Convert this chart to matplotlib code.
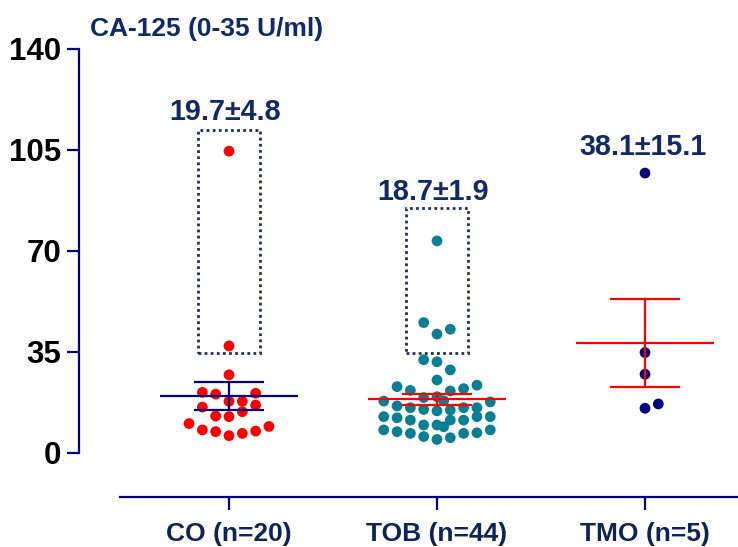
import matplotlib
matplotlib.use("Agg")
import matplotlib.pyplot as plt
from matplotlib.patches import Rectangle

# ---------------- data ----------------
groups = ["CO (n=20)", "TOB (n=44)", "TMO (n=5)"]
yticks = [0, 35, 70, 105, 140]

co_values = [104.6, 37.1, 27.1, 21.0, 20.4, 20.7, 17.9, 17.9, 16.6, 15.9,
             14.3, 12.8, 12.6, 10.2, 8.0, 7.4, 6.0, 6.8, 7.6, 9.2]
tob_values = [73.5, 45.2, 41.2, 42.9, 32.3, 31.6, 28.8, 25.3, 23.0, 21.7,
              19.2, 19.5, 21.5, 22.3, 23.5, 18.0, 17.7, 18.1, 16.3, 15.7,
              15.1, 14.6, 14.9, 15.7, 15.7, 12.6, 12.2, 11.4, 11.4, 11.4,
              12.6, 12.6, 9.7, 9.7, 9.1, 8.0, 7.4, 6.8, 5.7, 4.7,
              5.3, 6.8, 7.0, 8.0]
tmo_values = [97.0, 34.8, 27.3, 15.5, 17.0]

means = [19.7, 18.7, 38.1]
sems = [4.8, 1.9, 15.1]
labels = ["19.7\u00b14.8", "18.7\u00b11.9", "38.1\u00b115.1"]

# outlier boxes (value ranges)
box_low = [34.5, 34.6]
box_high = [112.0, 84.8]

# swarm layout columns (horizontal slot of each dot)
co_cols = [0, 0, 0, -2, -1, 2, 0, 1, 2, -2, 1, -1, 0, -3, -2, -1, 0, 1, 2, 3]
tob_cols = [0, -1, 0, 1, -1, 0, 1, 0, -3, -2, -1, 0, 1, 2, 3, -4, 4, 0.5,
            -3, -2, -1, 0, 1, 2, 3, -4, -3, -2, 1, 2, 3, 4, -1, 0, 0.5,
            -4, -3, -2, -1, 0, 1, 2, 3, 4]
tmo_cols = [0, 0, 0, 0, 1]

# ---------------- style ----------------
navy = "#00007f"
textnavy = "#0f2a66"
boxcol = "#1b2f5e"
red = "#ff0000"
teal = "#0a7f93"
step = 0.064

fig = plt.figure(figsize=(7.38, 5.47), dpi=100)
ax = fig.add_axes([79 / 738, 50 / 547, (738 - 79) / 738, (497 - 49) / 547])
ax.set_xlim(-0.721, 2.447)
ax.set_ylim(-15.25, 140)

series = [(co_values, co_cols, red), (tob_values, tob_cols, teal),
          (tmo_values, tmo_cols, navy)]
line_colors = [navy, red, red]
for i, (vals, cols, c) in enumerate(series):
    xs = [i + k * step for k in cols]
    ax.scatter(xs, vals, s=60, color=c, edgecolors="none", zorder=2)
    m, s = means[i], sems[i]
    lc = line_colors[i]
    ax.plot([i - 0.33, i + 0.33], [m, m], color=lc, lw=1.6, zorder=3,
            solid_capstyle="butt")
    ax.plot([i - 0.17, i + 0.17], [m + s, m + s], color=lc, lw=1.6, zorder=3,
            solid_capstyle="butt")
    ax.plot([i - 0.17, i + 0.17], [m - s, m - s], color=lc, lw=1.6, zorder=3,
            solid_capstyle="butt")
    ax.plot([i, i], [m - s, m + s], color=lc, lw=1.6, zorder=3)

for i in range(2):
    ax.add_patch(Rectangle((i - 0.15, box_low[i]), 0.30,
                           box_high[i] - box_low[i], fill=False,
                           edgecolor=boxcol, lw=2.0, linestyle=(0, (1, 1.2)),
                           zorder=1))

label_y = [118.2, 90.4, 106.1]
label_dx = [-0.02, -0.02, -0.01]
for i in range(3):
    ax.text(i + label_dx[i], label_y[i], labels[i], ha="center", va="center",
            fontsize=20.7, fontweight="bold", color=textnavy,
            family="Liberation Sans")

fig.text(90 / 738, 1 - 29 / 547, "CA-125 (0-35 U/ml)", ha="left",
         va="center", fontsize=19, fontweight="bold", color=textnavy,
         family="Liberation Sans")

# axes styling
for sp in ["top", "right"]:
    ax.spines[sp].set_visible(False)
ax.spines["left"].set_bounds(0, 140)
ax.spines["bottom"].set_bounds(-0.524, 2.447)
for sp in ["left", "bottom"]:
    ax.spines[sp].set_color(navy)
    ax.spines[sp].set_linewidth(1.6)

ax.set_yticks(yticks)
ax.set_yticklabels([str(t) for t in yticks])
ax.set_xticks(range(3))
ax.set_xticklabels(groups)
ax.tick_params(axis="y", length=9, width=1.6, color=navy, pad=4,
               labelsize=22.5)
ax.tick_params(axis="x", length=9.5, width=1.6, color=navy, pad=8.5,
               labelsize=19)
for t in ax.get_yticklabels() + ax.get_xticklabels():
    t.set_fontweight("bold")
    t.set_family("Liberation Sans")
for t in ax.get_xticklabels():
    t.set_color("#0d2458")

fig.savefig("out.png", dpi=100)
